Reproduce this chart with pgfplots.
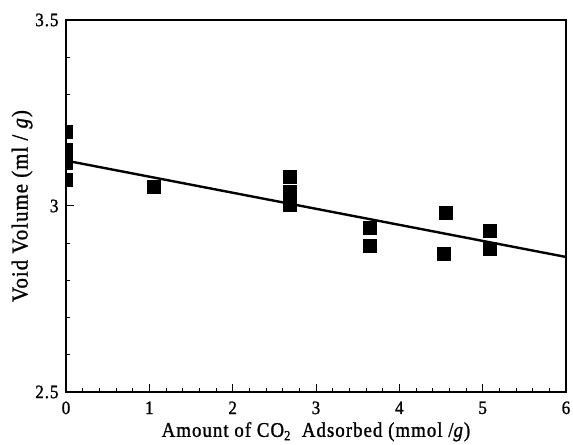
\documentclass[border=0pt]{standalone}
\usepackage{fontspec}
\setmainfont{Liberation Serif}
\newfontfamily\lab[FakeStretch=0.9,LetterSpace=5,FakeBold=1.2]{Liberation Serif}
\usepackage{pgfplots}
\pgfplotsset{compat=1.18}

\begin{document}
\begin{tikzpicture}
\begin{axis}[
  at={(0,0)}, anchor=south west,
  scale only axis, width=500bp, height=372bp,
  xmin=0, xmax=6, ymin=2.5, ymax=3.5,
  xtick={0,...,6}, ytick={2.5,3,3.5},
  minor x tick num=4, minor y tick num=4,
  tick pos=left, tick align=inside,
  major tick length=8bp, minor tick length=4bp,
  axis line style={line width=1.6bp},
  every tick/.style={black, line width=1bp},
  tick label style={font=\lab\fontsize{19}{20}\selectfont},
  xticklabel style={yshift=-6bp},
  yticklabel style={xshift=-4bp},
  /pgf/number format/assume math mode=true,
  xlabel={Amount of CO\raisebox{-0.35ex}{\fontsize{14}{14}\selectfont 2} \ Adsorbed (mmol /\textit{g})},
  ylabel={Void Volume (ml / \textit{g})},
  label style={font=\lab\fontsize{21}{22}\selectfont},
  xlabel style={yshift=-1bp},
  ylabel style={font=\lab\fontsize{23}{24}\selectfont, yshift=-4bp},
  clip marker paths=true,
]
  \addplot[only marks, mark=square*, mark size=6.5bp, black] coordinates {
    (0,3.200) (0,3.151) (0,3.116) (0,3.070)
    (1.05,3.051)
    (2.69,3.079) (2.69,3.038) (2.69,3.003)
    (3.65,2.941) (3.65,2.892)
    (4.56,2.982) (4.53,2.873)
    (5.08,2.934) (5.09,2.884)
  };
  \addplot[black, line width=2.4bp] coordinates {(0,3.122) (6,2.863)};
\end{axis}
\pgfresetboundingbox
\path (-66bp,-53bp) rectangle (507bp,392bp);
\end{tikzpicture}
\end{document}
